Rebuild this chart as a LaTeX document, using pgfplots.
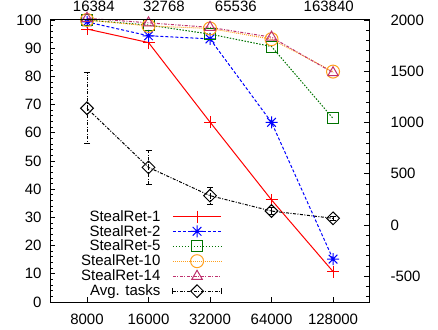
\documentclass[border=0pt]{standalone}
\usepackage{pgfplots}
\pgfplotsset{compat=1.18}
\usepackage{fontspec}
\setmainfont{Liberation Sans}
\definecolor{srred}{RGB}{255,0,0}
\definecolor{srblue}{RGB}{0,0,255}
\definecolor{srgreen}{RGB}{0,115,0}
\definecolor{srorange}{RGB}{255,160,30}
\definecolor{srpurple}{RGB}{190,50,110}
\pgfdeclareplotmark{ast8}{%
  \pgfpathmoveto{\pgfqpoint{-\pgfplotmarksize}{0pt}}\pgfpathlineto{\pgfqpoint{\pgfplotmarksize}{0pt}}%
  \pgfpathmoveto{\pgfqpoint{0pt}{-\pgfplotmarksize}}\pgfpathlineto{\pgfqpoint{0pt}{\pgfplotmarksize}}%
  \pgfpathmoveto{\pgfqpoint{-.72\pgfplotmarksize}{-.72\pgfplotmarksize}}\pgfpathlineto{\pgfqpoint{.72\pgfplotmarksize}{.72\pgfplotmarksize}}%
  \pgfpathmoveto{\pgfqpoint{-.72\pgfplotmarksize}{.72\pgfplotmarksize}}\pgfpathlineto{\pgfqpoint{.72\pgfplotmarksize}{-.72\pgfplotmarksize}}%
  \pgfusepathqstroke}
\begin{document}
\begin{tikzpicture}[font=\fontsize{15}{17}\selectfont]
\begin{axis}[
  at={(0,0)}, anchor=south west,
  scale only axis, width=319pt, height=282pt,
  xmin=-0.6016, xmax=4.585, ymin=0, ymax=100,
  xtick={0,1,2,3,4}, xticklabels={8000,16000,32000,64000,128000},
  ytick={0,10,...,100}, yticklabels={0,10,20,30,40,50,60,70,80,90,100},
  minor ytick={0,2,...,100},
  xtick pos=left, ytick pos=left, tick align=inside,
  major tick length=5pt, minor tick length=3pt,
  tick style={black, line width=0.8pt},
  axis line style={line width=1pt},
  clip=false,
  xticklabel style={yshift=-8pt}, yticklabel style={xshift=-5pt},
  legend cell align=right, legend plot pos=right,
  legend style={at={(0.539,0.015)}, anchor=south east, draw=none, fill=none, inner sep=0pt,
    nodes={inner sep=0pt}, font=\fontsize{15}{17}\selectfont, row sep=2.4pt, column sep=12pt},
  legend image code/.code={\draw[mark repeat=2,mark phase=2] plot coordinates {(0cm,0cm)(0.85cm,0cm)(1.7cm,0cm)};},
  every axis plot/.append style={line width=1pt},
]
\addplot[srred, solid, mark=+, mark size=6pt] coordinates {(0,96.8) (1,92.0) (2,63.8) (3,36.2) (4,10.8)};
\addlegendentry{StealRet-1}
\addplot[srblue, dash pattern=on 3pt off 2pt, mark=ast8, mark size=6pt, mark options={solid}] coordinates {(0,99.3) (1,94.4) (2,93.3) (3,63.7) (4,15.2)};
\addlegendentry{StealRet-2}
\addplot[srgreen, dash pattern=on 1.5pt off 1.5pt, mark=square, mark size=5.5pt, mark options={solid}] coordinates {(0,100) (1,98.2) (2,95.0) (3,90.6) (4,65.1)};
\addlegendentry{StealRet-5}
\addplot[srorange, dash pattern=on 1pt off 1pt, mark=o, mark size=6.5pt, mark options={solid}] coordinates {(0,100) (1,97.9) (2,97.0) (3,93.2) (4,81.7)};
\addlegendentry{StealRet-10}
\addplot[srpurple, dash pattern=on 3pt off 1.5pt on 1pt off 1.5pt, mark=triangle, mark size=6pt, mark options={solid}] coordinates {(0,100.6) (1,99.0) (2,97.4) (3,93.9) (4,81.3)};
\addlegendentry{StealRet-14}
\addlegendimage{black, dash pattern=on 3pt off 1.5pt on 1pt off 1.5pt, mark=square, mark size=4.5pt, mark options={solid, rotate=45},
  legend image code/.code={
    \draw[mark repeat=2,mark phase=2] plot coordinates {(0cm,0cm)(0.85cm,0cm)(1.7cm,0cm)};
    \draw[solid] (0cm,-3pt)--(0cm,3pt) (1.7cm,-3pt)--(1.7cm,3pt);}}
\addlegendentry{Avg. tasks}
\end{axis}
\begin{axis}[
  at={(0,0)}, anchor=south west,
  scale only axis, width=319pt, height=282pt,
  xmin=-0.6016, xmax=4.585, ymin=-750, ymax=2000,
  xtick={0.11,1.25,2.42,3.93}, xticklabels={16384,32768,65536,163840},
  xtick pos=right, ytick pos=right, tick align=inside,
  xtick style={draw=none},
  ytick={-500,0,...,2000}, yticklabels={-500,0,500,1000,1500,2000},
  minor ytick={-700,-600,...,1900},
  major tick length=5pt, minor tick length=3pt,
  ytick style={black, line width=0.8pt},
  axis line style={line width=1pt},
  clip=false,
  xticklabel style={anchor=base, yshift=8.8pt}, yticklabel style={xshift=18pt, anchor=west},
]
\addplot[black, line width=1pt, dash pattern=on 3pt off 1.5pt on 1pt off 1.5pt, mark=square, mark size=4.5pt, mark options={solid, rotate=45},
  error bars/.cd, y dir=both, y explicit, error mark=-,
  error mark options={solid, rotate=90, mark size=3pt, line width=1pt, black}]
  coordinates {
    (0,1139) +- (0,347)
    (1,563) +- (0,167)
    (2,287) +- (0,82)
    (3,137) +- (0,35)
    (4,66) +- (0,20)
  };
\end{axis}
\pgfresetboundingbox
\path[use as bounding box] (-50pt,-27pt) rectangle (388pt,302pt);
\end{tikzpicture}
\end{document}
